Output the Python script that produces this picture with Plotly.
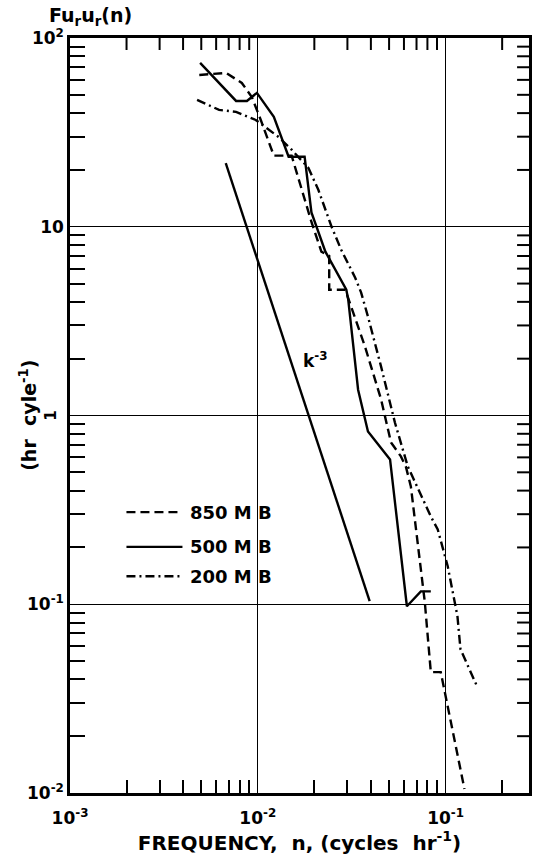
import plotly.graph_objects as go

# ---- data ----
freq_850 = [0.00488, 0.00678, 0.00822, 0.00929, 0.01037, 0.01217, 0.01514, 0.0193, 0.0218,
            0.0240, 0.0240, 0.0292, 0.0372, 0.0453, 0.0512, 0.0578, 0.0614, 0.0653, 0.0775,
            0.0834, 0.0942, 0.126]
spec_850 = [63.7, 65.3, 57.8, 48.7, 36.8, 23.8, 23.8, 10.6, 7.38,
            7.0, 4.64, 4.64, 2.32, 1.22, 0.720, 0.607, 0.537, 0.421, 0.1025,
            0.0437, 0.0437, 0.0105]

freq_500 = [0.00493, 0.00766, 0.00875, 0.00989, 0.01217, 0.01459, 0.01775, 0.0193, 0.0229,
            0.0296, 0.0303, 0.0342, 0.0386, 0.0506, 0.0622, 0.0738, 0.0834]
spec_500 = [73.8, 46.4, 46.4, 51.2, 38.2, 23.5, 23.5, 11.9, 7.38,
            4.64, 4.11, 1.37, 0.822, 0.585, 0.0976, 0.117, 0.117]

freq_200 = [0.00475, 0.00622, 0.00766, 0.00975, 0.0129, 0.01514, 0.0186, 0.0210, 0.0247,
            0.0278, 0.0330, 0.0355, 0.0386, 0.0453, 0.0537, 0.0629, 0.0834, 0.0908, 0.1026,
            0.1156, 0.120, 0.1476]
spec_200 = [47.0, 41.6, 40.6, 36.8, 29.9, 25.6, 20.5, 15.7, 10.0,
            7.55, 5.37, 4.48, 3.34, 1.82, 0.918, 0.537, 0.292, 0.249, 0.159,
            0.0865, 0.0578, 0.0364]

freq_k3 = [0.00675, 0.0394]
spec_k3 = [21.7, 0.104]

x_decades = [0.001, 0.01, 0.1]
x_decade_text = ["<b>10<sup>-3</sup></b>", "<b>10<sup>-2</sup></b>", "<b>10<sup>-1</sup></b>"]
y_decades = [0.01, 0.1, 1, 10, 100]
y_decade_text = ["<b>10<sup>-2</sup></b>", "<b>10<sup>-1</sup></b>", "", "<b>10</b>", "<b>10<sup>2</sup></b>"]
x_minor = [k * 10.0 ** e for e in (-3, -2, -1) for k in range(2, 10)]
y_minor = [k * 10.0 ** e for e in (-2, -1, 0, 1) for k in range(2, 10)]

legend_names = ["850 M B", "500 M B", "200 M B"]

FONT = "DejaVu Sans"
ink = "black"
dash_850 = "9px,5px"
dash_200 = "9px,4px,2px,4px"
LW = 2.4
X_RANGE = [-3, -0.556]
Y_RANGE = [-2, 2]
TICK_DECADES = 12 / 189.0   # inner tick length on top/right, expressed in decades

fig = go.Figure()
fig.add_trace(go.Scatter(x=freq_850, y=spec_850, mode="lines",
                         line=dict(color=ink, width=LW, dash=dash_850)))
fig.add_trace(go.Scatter(x=freq_500, y=spec_500, mode="lines",
                         line=dict(color=ink, width=LW)))
fig.add_trace(go.Scatter(x=freq_200, y=spec_200, mode="lines",
                         line=dict(color=ink, width=LW, dash=dash_200)))
fig.add_trace(go.Scatter(x=freq_k3, y=spec_k3, mode="lines",
                         line=dict(color=ink, width=LW)))

# mirrored minor ticks on the top and right frame, built from the tick lists
top_hi = 10 ** Y_RANGE[1]
top_lo = 10 ** (Y_RANGE[1] - TICK_DECADES)
tx, ty = [], []
for xv in x_minor:
    if xv < 10 ** X_RANGE[1]:
        tx += [xv, xv, None]
        ty += [top_hi, top_lo, None]
fig.add_trace(go.Scatter(x=tx, y=ty, mode="lines", line=dict(color=ink, width=2),
                         hoverinfo="skip"))
right_hi = 10 ** X_RANGE[1]
right_lo = 10 ** (X_RANGE[1] - TICK_DECADES)
rx, ry = [], []
for yv in y_minor:
    rx += [right_hi, right_lo, None]
    ry += [yv, yv, None]
fig.add_trace(go.Scatter(x=rx, y=ry, mode="lines", line=dict(color=ink, width=2),
                         hoverinfo="skip"))

# legend (hand drawn in reference)
leg_y = [0.372, 0.326, 0.287]
leg_dash = [dash_850, "solid", dash_200]
for name, yy, dd in zip(legend_names, leg_y, leg_dash):
    fig.add_shape(type="line", xref="paper", yref="paper", x0=0.123, x1=0.245, y0=yy, y1=yy,
                  line=dict(color=ink, width=LW, dash=dd))
    fig.add_annotation(xref="paper", yref="paper", x=0.258, y=yy, text="<b>" + name + "</b>",
                       showarrow=False, xanchor="left", yanchor="middle",
                       font=dict(family=FONT, size=18, color=ink))

# k^-3 label
fig.add_annotation(xref="paper", yref="paper", x=(317 - 70) / 462, y=(793 - 360) / 755,
                   text="<b>k<sup>-3</sup></b>", showarrow=False,
                   font=dict(family=FONT, size=17, color=ink))

# header label above y axis
fig.add_annotation(xref="paper", yref="paper", x=-0.05, y=1.029, xanchor="left", yanchor="middle",
                   text="<b>Fu<sub>r</sub>u<sub>r</sub>(n)</b>", showarrow=False,
                   font=dict(family=FONT, size=19, color=ink))

# y-axis title (rotated)
fig.add_annotation(xref="paper", yref="paper", x=-0.093, y=0.5, xanchor="center", yanchor="middle",
                   text="<b>(hr  cyle<sup>-1</sup>)</b>", textangle=-90, showarrow=False,
                   font=dict(family=FONT, size=19, color=ink))

# rotated "1" tick label
fig.add_annotation(xref="paper", yref="y", x=-0.043, y=0, xanchor="center", yanchor="middle",
                   text="<b>1</b>", textangle=-90,
                   showarrow=False, font=dict(family=FONT, size=15, color=ink))

axis_common = dict(
    type="log", showline=True, linewidth=2.5, linecolor=ink, mirror=True,
    ticks="inside", ticklen=0, tickwidth=2, tickcolor=ink,
    showgrid=True, gridcolor=ink, gridwidth=1.2, zeroline=False,
    tickfont=dict(family=FONT, size=17, color=ink),
)

fig.update_layout(
    xaxis=dict(**axis_common, range=X_RANGE, tickvals=x_decades, ticktext=x_decade_text,
               ticklabelstandoff=8,
               minor=dict(tickvals=x_minor, ticks="inside", ticklen=13, tickwidth=2,
                          tickcolor=ink, showgrid=False),
               title=dict(text="<b>FREQUENCY,  n, (cycles  hr<sup>-1</sup>)</b>",
                          font=dict(family=FONT, size=20, color=ink), standoff=8)),
    yaxis=dict(**axis_common, range=Y_RANGE, tickvals=y_decades, ticktext=y_decade_text,
               minor=dict(tickvals=y_minor, ticks="inside", ticklen=15, tickwidth=2,
                          tickcolor=ink, showgrid=False)),
    width=538, height=860, margin=dict(l=70, r=6, t=38, b=67),
    plot_bgcolor="white", paper_bgcolor="white", showlegend=False,
)

fig.write_html("out.html")
